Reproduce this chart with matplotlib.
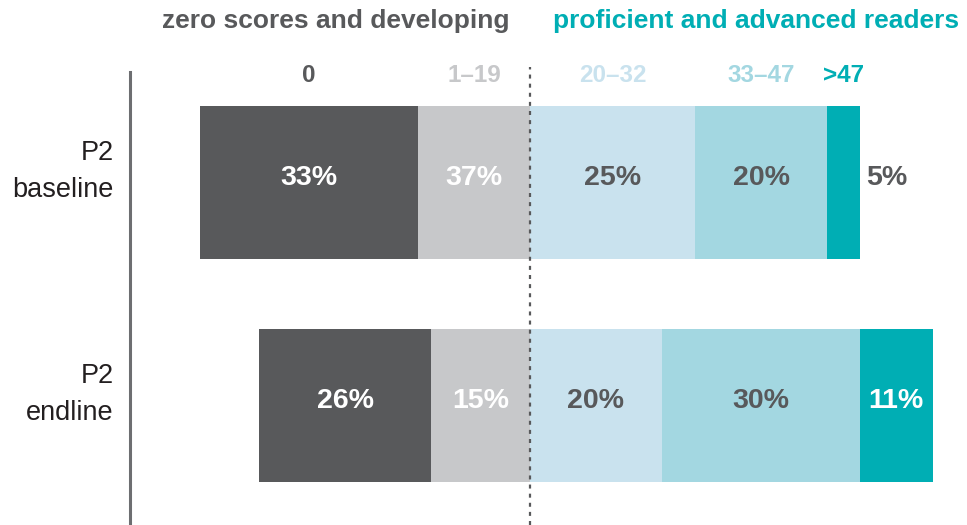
import matplotlib
matplotlib.use("Agg")
import matplotlib.pyplot as plt
from matplotlib.transforms import offset_copy, blended_transform_factory

# ---------------- data ----------------
categories = ["P2\nbaseline", "P2\nendline"]
score_bands = ["0", "1–19", "20–32", "33–47", ">47"]
group_titles = ["zero scores and developing", "proficient and advanced readers"]
# share of pupils (%) in each score band; the first two bands sit left of zero
baseline_vals = [33, 17, 25, 20, 5]
endline_vals = [26, 15, 20, 30, 11]
# labels as printed on the chart
baseline_labels = ["33%", "37%", "25%", "20%", "5%"]
endline_labels = ["26%", "15%", "20%", "30%", "11%"]
n_left = 2

rows_vals = [baseline_vals, endline_vals]
rows_labels = [baseline_labels, endline_labels]

# ---------------- style ----------------
band_colors = ["#58595b", "#c7c8ca", "#c9e2ee", "#a3d7e1", "#00aeb4"]
label_colors = ["white", "white", "#58595b", "#58595b", "white"]
dark = "#58595b"
teal = "#00aeb4"
W, H = 967, 525
zero_px, px_per_unit = 530, 6.6
spine_px = 129.5
row_px = [182.4, 405.4]
row_step = row_px[1] - row_px[0]
bar_h = 152.5 / row_step

fig = plt.figure(figsize=(W / 100, H / 100), dpi=100)
ax = fig.add_axes([spine_px / W, 0, 1 - spine_px / W, 1])
ax.set_xlim((spine_px - zero_px) / px_per_unit, (W - zero_px) / px_per_unit)
ax.set_ylim((H - row_px[0]) / row_step, -row_px[0] / row_step)

for s in ["top", "right", "bottom"]:
    ax.spines[s].set_visible(False)
ax.spines["left"].set_color("#6d6e71")
ax.spines["left"].set_linewidth(2.2)
ax.spines["left"].set_bounds((72 - row_px[0]) / row_step, (H - row_px[0]) / row_step)
ax.set_xticks([])
ax.set_yticks([])

sans = ["Liberation Sans", "DejaVu Sans"]
pct_font = dict(family=sans, weight="bold", size=20.5)

for i, (vals, labs) in enumerate(zip(rows_vals, rows_labels)):
    left = -sum(vals[:n_left])
    for j, (v, lab) in enumerate(zip(vals, labs)):
        ax.barh(i, v, left=left, height=bar_h, color=band_colors[j], zorder=2)
        if v < 8:
            tr = offset_copy(ax.transData, fig=fig, x=4.1, y=-1.8, units="points")
            ax.text(left + v, i, lab, ha="left", va="baseline", color=dark,
                    transform=tr, zorder=4, **pct_font)
        else:
            tr = offset_copy(ax.transData, fig=fig, x=0, y=-1.8, units="points")
            ax.text(left + v / 2, i, lab, ha="center", va="baseline",
                    color=label_colors[j], transform=tr, zorder=4, **pct_font)
        left += v

# dashed zero line
ax.axvline(0, ymin=0, ymax=1 - 67 / H, color=dark, lw=1.6,
           linestyle=(0, (1.8, 2.3)), zorder=3)

# group headers
bt = blended_transform_factory(ax.transData, ax.transAxes)
hdr_font = dict(family=sans, weight="bold", size=19)
ax.text(0, 1 - 28 / H, group_titles[0], ha="right", va="baseline", color=dark,
        transform=offset_copy(bt, fig=fig, x=-15, y=0, units="points"), **hdr_font)
ax.text(0, 1 - 28 / H, group_titles[1], ha="left", va="baseline", color=teal,
        transform=offset_copy(bt, fig=fig, x=16.5, y=0, units="points"), **hdr_font)

# score band labels above the baseline bar
band_font = dict(family=sans, weight="bold", size=17.5)
left = -sum(baseline_vals[:n_left])
for j, (v, band) in enumerate(zip(baseline_vals, score_bands)):
    ax.text(left + v / 2, 1 - 82 / H, band, ha="center", va="baseline",
            color=band_colors[j], transform=bt, **band_font)
    left += v

# category labels
ct = blended_transform_factory(ax.transAxes, ax.transData)
line_dy = [15.8, -10.8]
for i, cat in enumerate(categories):
    for k, line in enumerate(cat.split("\n")):
        ax.text(0, i, line, ha="right", va="baseline", color="#231f20",
                family=sans, size=19.5,
                transform=offset_copy(ct, fig=fig, x=-11.2, y=line_dy[k], units="points"))

fig.savefig("out.png", dpi=100)
